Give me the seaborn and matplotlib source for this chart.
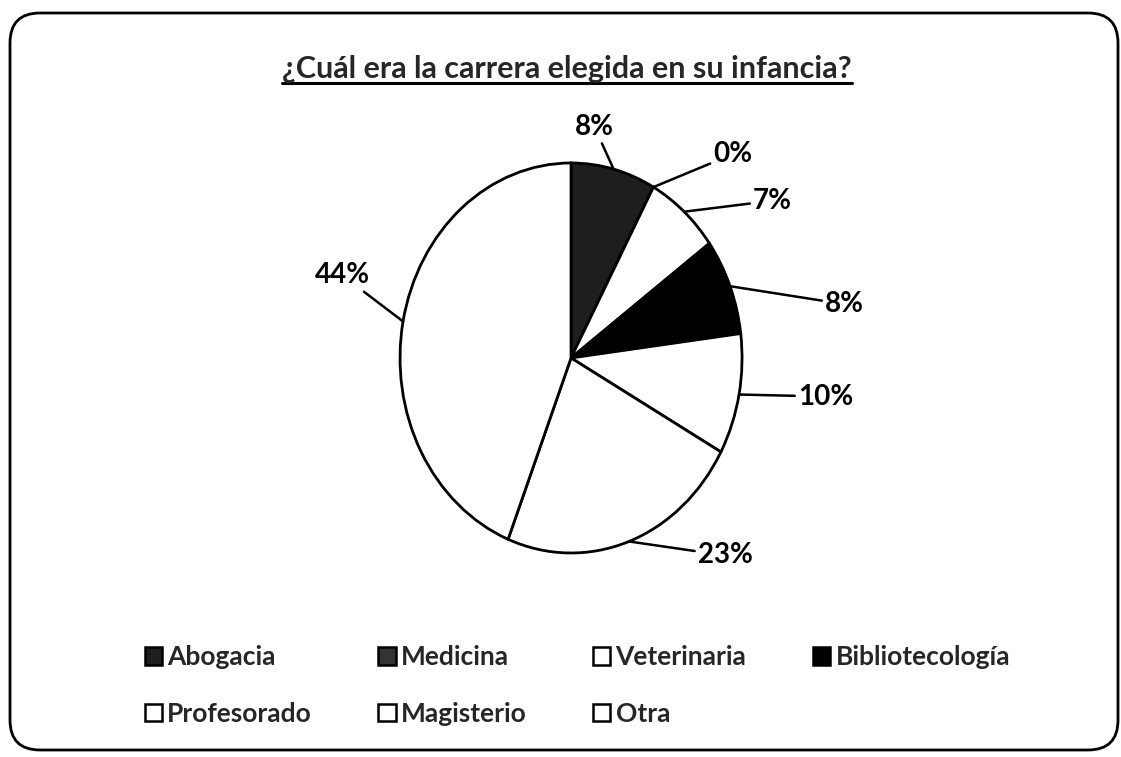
import numpy as np
import matplotlib.pyplot as plt
import seaborn as sns
from matplotlib.patches import FancyBboxPatch, Patch
from matplotlib.lines import Line2D

# datos del grafico
carreras = ['Abogacia', 'Medicina', 'Veterinaria', 'Bibliotecología',
            'Profesorado', 'Magisterio', 'Otra']
porcentajes = [8, 0, 7, 8, 10, 23, 44]
etiquetas = ['8%', '0%', '7%', '8%', '10%', '23%', '44%']

# estilo
colores = ['#1e1e1e', '#333333', 'white', 'black', 'white', 'white', 'white']
# posicion de cada etiqueta respecto del borde de su porcion (pixeles)
desplaz = [(-19, 42), (60, 33), (69, 11), (95, -18), (59, -2), (69, -14), (-33, 46)]
alineacion = ['center', 'left', 'left', 'left', 'left', 'left', 'right']

sns.set_theme(style='white')
plt.rcParams['font.family'] = ['Lato', 'DejaVu Sans']

fig = plt.figure(figsize=(11.21, 7.57), dpi=100)

# marco redondeado
marco = FancyBboxPatch((0.10, 0.07), 11.08, 7.37,
                       boxstyle='round,pad=0,rounding_size=0.3',
                       transform=fig.dpi_scale_trans, facecolor='none',
                       edgecolor='black', linewidth=2)
fig.patches.append(marco)

ax = fig.add_axes([0.3187, 0.2051, 0.3814, 0.644])
wedges, _ = ax.pie(porcentajes, colors=colores, startangle=90, counterclock=False,
                   wedgeprops=dict(edgecolor='black', linewidth=2))
ax.set_aspect('auto')
ax.set_xlim(-1.25, 1.25)
ax.set_ylim(-1.25, 1.25)

for w, txt, d, ha in zip(wedges, etiquetas, desplaz, alineacion):
    ang = np.deg2rad((w.theta1 + w.theta2) / 2)
    ax.annotate(txt, xy=(np.cos(ang), np.sin(ang)), xytext=d,
                textcoords='offset pixels', ha=ha, va='center', fontsize=20,
                fontweight='bold', color='black', annotation_clip=False,
                arrowprops=dict(arrowstyle='-', color='black', lw=1.8,
                                shrinkA=0, shrinkB=0))

# titulo subrayado
titulo = fig.text(0.506, 0.897, '¿Cuál era la carrera elegida en su infancia?',
                  ha='center', va='baseline', fontsize=22, fontweight='bold')
fig.canvas.draw()
bb = titulo.get_window_extent().transformed(fig.transFigure.inverted())
fig.add_artist(Line2D([bb.x0, bb.x1], [0.891, 0.891], color='black', lw=2.2,
                      transform=fig.transFigure))

# leyenda (orden por columnas para llenar por filas)
orden = [0, 4, 1, 5, 2, 6, 3]
handles = [Patch(facecolor=colores[i], edgecolor='black', linewidth=1.8) for i in orden]
fig.legend(handles, [carreras[i] for i in orden], ncol=4, mode='expand',
           loc='upper left', bbox_to_anchor=(0.129, 0.148, 0.772, 0),
           frameon=False, fontsize=19, handlelength=0.65, handleheight=0.65,
           handletextpad=0.2, labelspacing=1.25, borderpad=0, borderaxespad=0,
           prop=dict(weight='bold', size=19))

fig.savefig('out.png', dpi=100)
